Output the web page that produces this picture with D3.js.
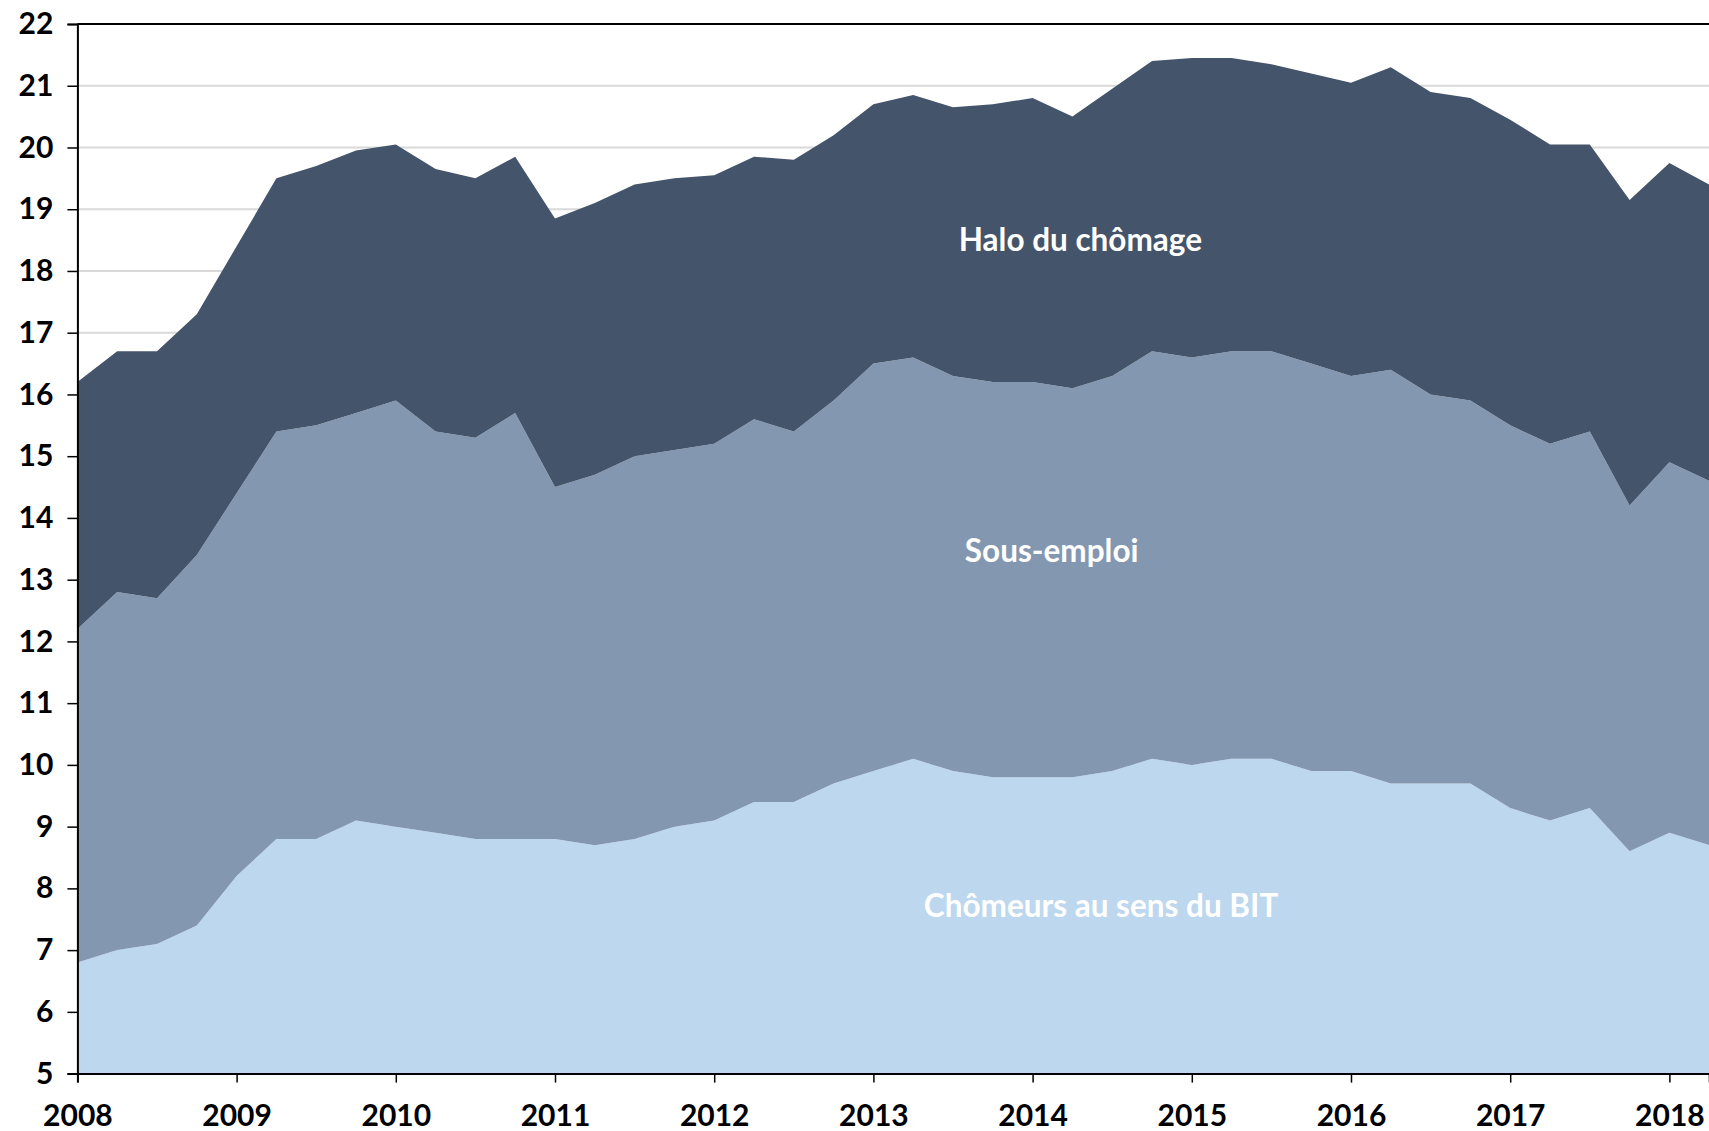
<!DOCTYPE html>
<html>
<head>
<meta charset="utf-8">
<script src="https://cdn.jsdelivr.net/npm/d3@7"></script>
<style>
  html, body { margin: 0; padding: 0; background: #fff; overflow: hidden; }
  svg { display: block; }
</style>
</head>
<body>
<svg id="chart" width="1709" height="1131"></svg>
<script>
// Quarters (decimal year of each quarterly observation)
const quarters = [
  2008.00, 2008.25, 2008.50, 2008.75,
  2009.00, 2009.25, 2009.50, 2009.75,
  2010.00, 2010.25, 2010.50, 2010.75,
  2011.00, 2011.25, 2011.50, 2011.75,
  2012.00, 2012.25, 2012.50, 2012.75,
  2013.00, 2013.25, 2013.50, 2013.75,
  2014.00, 2014.25, 2014.50, 2014.75,
  2015.00, 2015.25, 2015.50, 2015.75,
  2016.00, 2016.25, 2016.50, 2016.75,
  2017.00, 2017.25, 2017.50, 2017.75,
  2018.00, 2018.25
];

// Chômeurs au sens du BIT (%)
const chomeurs = [
  6.8, 7.0, 7.1, 7.4,
  8.2, 8.8, 8.8, 9.1,
  9.0, 8.9, 8.8, 8.8,
  8.8, 8.7, 8.8, 9.0,
  9.1, 9.4, 9.4, 9.7,
  9.9, 10.1, 9.9, 9.8,
  9.8, 9.8, 9.9, 10.1,
  10.0, 10.1, 10.1, 9.9,
  9.9, 9.7, 9.7, 9.7,
  9.3, 9.1, 9.3, 8.6,
  8.9, 8.7
];

// Sous-emploi (%)
const sousEmploi = [
  5.4, 5.8, 5.6, 6.0,
  6.2, 6.6, 6.7, 6.6,
  6.9, 6.5, 6.5, 6.9,
  5.7, 6.0, 6.2, 6.1,
  6.1, 6.2, 6.0, 6.2,
  6.6, 6.5, 6.4, 6.4,
  6.4, 6.3, 6.4, 6.6,
  6.6, 6.6, 6.6, 6.6,
  6.4, 6.7, 6.3, 6.2,
  6.2, 6.1, 6.1, 5.6,
  6.0, 5.9
];

// Halo du chômage (%)
const halo = [
  4.0, 3.9, 4.0, 3.9,
  4.0, 4.1, 4.2, 4.25,
  4.15, 4.25, 4.2, 4.15,
  4.35, 4.4, 4.4, 4.4,
  4.35, 4.25, 4.4, 4.3,
  4.2, 4.25, 4.35, 4.5,
  4.6, 4.4, 4.65, 4.7,
  4.85, 4.75, 4.65, 4.7,
  4.75, 4.9, 4.9, 4.9,
  4.95, 4.85, 4.65, 4.95,
  4.85, 4.8
];

const seriesKeys = ["chomeurs", "sousEmploi", "halo"];
const seriesLabels = ["Chômeurs au sens du BIT", "Sous-emploi", "Halo du chômage"];
const seriesColors = ["#BDD7EE", "#8497B0", "#44546A"];

const yearTicks = [2008, 2009, 2010, 2011, 2012, 2013, 2014, 2015, 2016, 2017, 2018];
const yTicks = [5, 6, 7, 8, 9, 10, 11, 12, 13, 14, 15, 16, 17, 18, 19, 20, 21, 22];

// ---- build table ----
const table = quarters.map((q, i) => ({
  q: q, chomeurs: chomeurs[i], sousEmploi: sousEmploi[i], halo: halo[i]
}));

const svg = d3.select("#chart");
const mLeft = 77.4, mRight = 1709.2, mTop = 24, mBottom = 1073.6;

const x = d3.scaleLinear().domain([2008, 2018.25]).range([mLeft, mRight]);
const y = d3.scaleLinear().domain([5, 22]).range([mBottom, mTop]);

const FONT = "Lato, 'Open Sans', sans-serif";

// gridlines
svg.append("g")
  .selectAll("line")
  .data(yTicks.filter(d => d > 5 && d < 22))
  .join("line")
  .attr("x1", mLeft).attr("x2", 1709)
  .attr("y1", d => y(d)).attr("y2", d => y(d))
  .attr("stroke", "#d9d9d9").attr("stroke-width", 2);

// stacked areas (clipped to axis minimum)
const stack = d3.stack().keys(seriesKeys);
const stacked = stack(table);

const area = d3.area()
  .x(d => x(d.data.q))
  .y0(d => y(Math.max(5, d[0])))
  .y1(d => y(d[1]));

svg.append("g")
  .selectAll("path")
  .data(stacked)
  .join("path")
  .attr("d", area)
  .attr("fill", (d, i) => seriesColors[i]);

// top border line at 22
svg.append("line")
  .attr("x1", mLeft).attr("x2", 1709)
  .attr("y1", y(22)).attr("y2", y(22))
  .attr("stroke", "#000").attr("stroke-width", 2);

// y axis
const yAxis = d3.axisLeft(y).tickValues(yTicks).tickSize(10).tickPadding(14).tickFormat(d3.format("d"));
const gy = svg.append("g").attr("transform", `translate(${mLeft},0)`).call(yAxis);
gy.select(".domain").attr("stroke", "#000").attr("stroke-width", 2);
gy.selectAll(".tick line").attr("stroke", "#000").attr("stroke-width", 1.5);
gy.selectAll(".tick text")
  .attr("font-family", FONT).attr("font-weight", "bold")
  .attr("font-size", 30).attr("fill", "#000");

// x axis
const xAxis = d3.axisBottom(x).tickValues(yearTicks).tickSize(9).tickPadding(22).tickFormat(d3.format("d"));
const gx = svg.append("g").attr("transform", `translate(0,${mBottom})`).call(xAxis);
gx.select(".domain").attr("stroke", "#000").attr("stroke-width", 2);
gx.selectAll(".tick line").attr("stroke", "#000").attr("stroke-width", 1.5);
gx.selectAll(".tick text")
  .attr("font-family", FONT).attr("font-weight", "bold")
  .attr("font-size", 30).attr("fill", "#000");

// in-chart labels
const labelPos = [
  { q: 2014.43, v: 7.66 },  // Chômeurs
  { q: 2014.12, v: 13.42 }, // Sous-emploi
  { q: 2014.3, v: 18.45 }   // Halo
];
svg.append("g")
  .selectAll("text")
  .data(seriesLabels)
  .join("text")
  .attr("x", (d, i) => x(labelPos[i].q))
  .attr("y", (d, i) => y(labelPos[i].v))
  .attr("text-anchor", "middle")
  .attr("dominant-baseline", "middle")
  .attr("font-family", FONT).attr("font-weight", "bold")
  .attr("font-size", 31.5)
  .attr("fill", "#fff")
  .text(d => d);
</script>
</body>
</html>
